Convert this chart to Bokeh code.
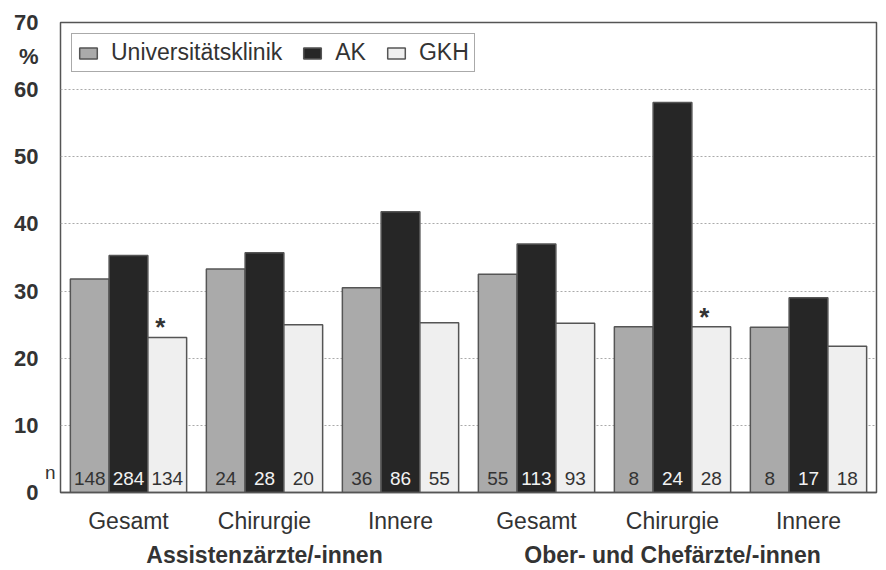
from bokeh.plotting import figure
from bokeh.models import Range1d, FixedTicker, ColumnDataSource, Legend, LinearAxis
from bokeh.core.properties import value
from bokeh.embed import file_html
from bokeh.resources import INLINE

categories = ["Gesamt", "Chirurgie", "Innere", "Gesamt", "Chirurgie", "Innere"]
groups = ["Assistenzärzte/-innen", "Ober- und Chefärzte/-innen"]
series = ["Universitätsklinik", "AK", "GKH"]
uni = [31.8, 33.3, 30.5, 32.5, 24.7, 24.6]
ak = [35.3, 35.7, 41.8, 37.0, 58.1, 29.0]
gkh = [23.1, 25.0, 25.3, 25.2, 24.7, 21.8]
n_uni = [148, 24, 36, 55, 8, 8]
n_ak = [284, 28, 86, 113, 24, 17]
n_gkh = [134, 20, 55, 93, 28, 18]
significant_gkh = [True, False, False, False, True, False]
y_ticks = [0, 10, 20, 30, 40, 50, 60, 70]
unit_label = "%"
n_label = "n"

FONT = "Liberation Sans"
colors = ["#aaaaaa", "#262626", "#efefef"]
n_colors = ["#333333", "#f2f2f2", "#333333"]
bw = 0.285
offsets = [-bw, 0.0, bw]

p = figure(width=886, height=570, output_backend="svg", toolbar_location=None,
           x_range=Range1d(-0.5, 5.5), y_range=Range1d(0, 70),
           min_border_left=60, min_border_right=10, min_border_top=22, min_border_bottom=77)
p.background_fill_color = "white"
p.border_fill_color = "white"
p.outline_line_color = "#555555"
p.outline_line_width = 1.5

xs = list(range(len(categories)))
renderers = []
for k, (vals, ns) in enumerate([(uni, n_uni), (ak, n_ak), (gkh, n_gkh)]):
    src = ColumnDataSource(dict(x=[x + offsets[k] for x in xs], top=vals,
                                n=[str(v) for v in ns], ny=[2.1] * len(xs)))
    r = p.vbar(x="x", top="top", width=bw, bottom=0, source=src,
               fill_color=colors[k], line_color="#555555", line_width=1.5)
    renderers.append(r)
    p.text(x="x", y="ny", text="n", source=src, text_align="center",
           text_baseline="alphabetic", text_font=value(FONT),
           text_font_size="19px", text_color=n_colors[k])

# significance asterisks
sx = [x + offsets[2] for x, s in zip(xs, significant_gkh) if s]
sy = [g for g, s in zip(gkh, significant_gkh) if s]
p.text(x=sx, y=sy, text=["*"] * len(sx), text_align="center", text_baseline="alphabetic",
       x_offset=-7, y_offset=-10, text_font=value(FONT), text_font_size="26px",
       text_font_style="bold", text_color="#333333")

legend = Legend(items=[(series[i], [renderers[i]]) for i in range(3)],
                orientation="horizontal", location="top_left", margin=11,
                padding=5, spacing=19, label_standoff=12,
                glyph_width=22, glyph_height=14,
                label_text_font=FONT, label_text_font_size="23px", label_text_color="#333333",
                border_line_color="#555555", border_line_width=1.5,
                background_fill_alpha=1.0)
p.add_layout(legend, "center")

# y axes: inner one carries the "n" marker, outer one the values and "%"
main_y = p.yaxis[0]
main_y.ticker = FixedTicker(ticks=y_ticks + [65])
main_y.major_label_overrides = {65: unit_label}
main_y.major_label_text_font = FONT
main_y.major_label_text_font_size = "22px"
main_y.major_label_text_font_style = "bold"
main_y.major_label_text_color = "#333333"
main_y.major_tick_line_color = None
main_y.minor_tick_line_color = None
main_y.major_tick_out = 0
main_y.major_tick_in = 0
main_y.minor_tick_out = 0
main_y.axis_line_color = None
main_y.major_label_standoff = 3

n_axis = LinearAxis(ticker=FixedTicker(ticks=[3]), major_label_overrides={3: n_label},
                    major_label_text_font=FONT, major_label_text_font_size="19px",
                    major_label_text_color="#333333", major_tick_line_color=None,
                    minor_tick_line_color=None, axis_line_color=None,
                    major_tick_out=0, major_tick_in=0, minor_tick_out=0,
                    major_label_standoff=5)
p.left = [n_axis, main_y]

xa = p.xaxis[0]
xa.ticker = FixedTicker(ticks=xs)
xa.major_label_overrides = {i: c for i, c in enumerate(categories)}
xa.major_label_text_font = FONT
xa.major_label_text_font_size = "23px"
xa.major_label_text_color = "#333333"
xa.major_tick_line_color = None
xa.minor_tick_line_color = None
xa.major_tick_out = 0
xa.major_tick_in = 0
xa.minor_tick_out = 0
xa.axis_line_color = "#555555"
xa.axis_line_width = 1.5
xa.major_label_standoff = 15

group_axis = LinearAxis(ticker=FixedTicker(ticks=[1, 4]),
                        major_label_overrides={1: groups[0], 4: groups[1]},
                        major_label_text_font=FONT, major_label_text_font_size="23px",
                        major_label_text_font_style="bold", major_label_text_color="#333333",
                        major_tick_line_color=None, minor_tick_line_color=None,
                        major_tick_out=0, major_tick_in=0, minor_tick_out=0,
                        axis_line_color=None, major_label_standoff=5)
p.add_layout(group_axis, "below")

p.xgrid.grid_line_color = None
p.ygrid.ticker = FixedTicker(ticks=y_ticks[1:-1])
p.ygrid.grid_line_color = "#aaaaaa"
p.ygrid.grid_line_dash = "2 2"
p.ygrid.grid_line_width = 1

open("out.html", "w").write(file_html(p, INLINE))
